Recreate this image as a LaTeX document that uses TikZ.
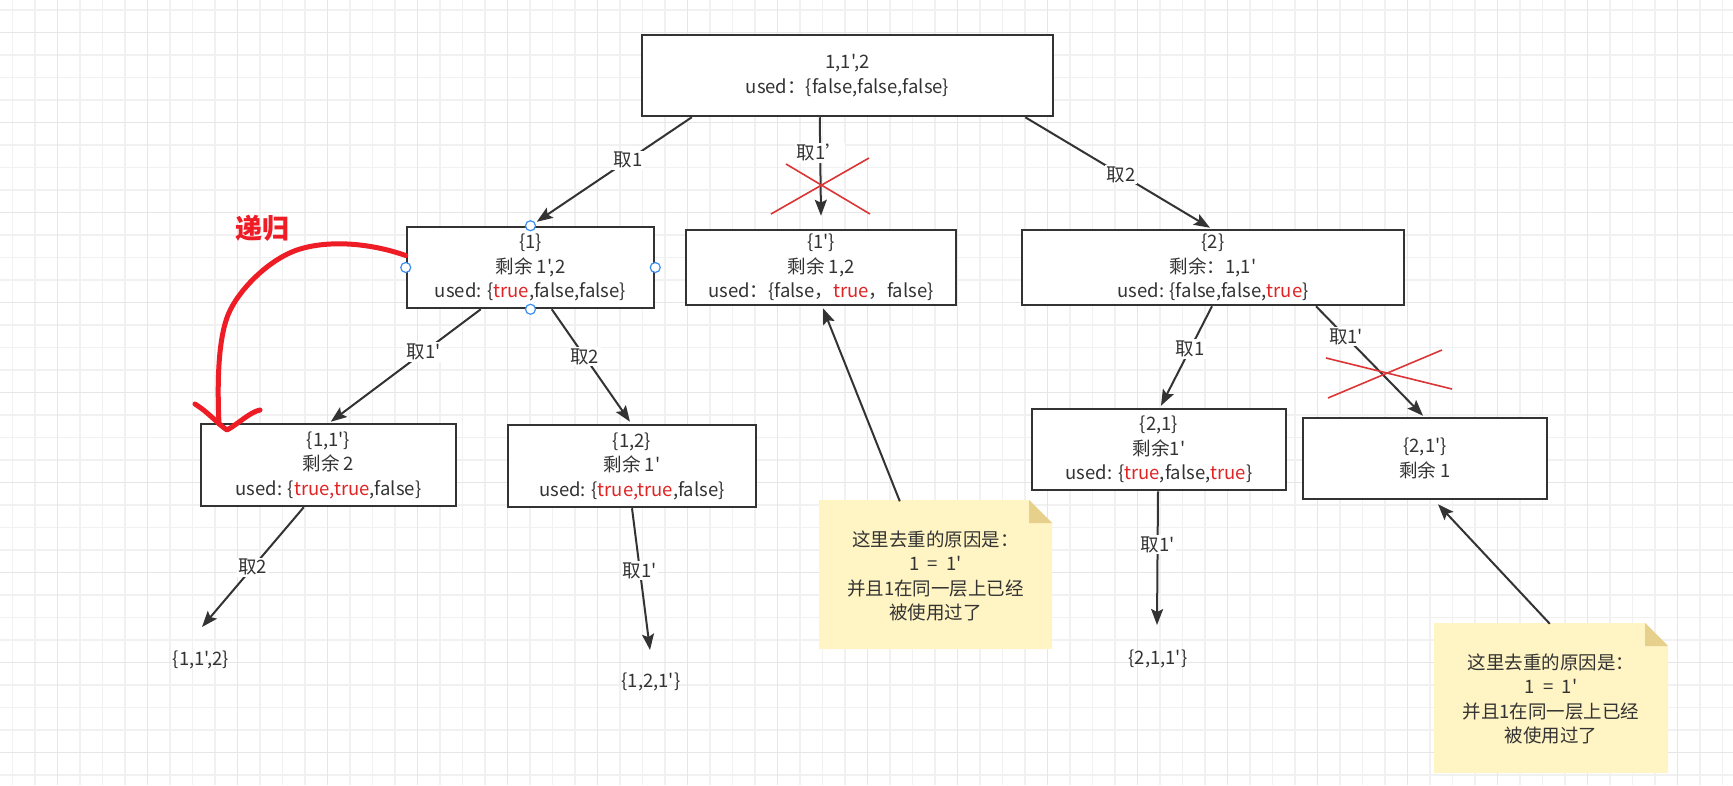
\documentclass[tikz,border=0pt]{standalone}
\usepackage{fontspec}
\setmainfont{Noto Sans CJK SC}[Ligatures=TeXOff]
\usetikzlibrary{arrows.meta,calc}
\definecolor{ink}{HTML}{333333}
\definecolor{txtred}{HTML}{E02424}
\definecolor{xred}{HTML}{DC3535}
\definecolor{penred}{HTML}{EE1C25}
\definecolor{handle}{HTML}{3B8CF0}
\definecolor{notefill}{HTML}{FFF4C3}
\definecolor{foldfill}{HTML}{E6D08C}
\definecolor{gridminor}{HTML}{F1F1F1}
\definecolor{gridmajor}{HTML}{E6E6E6}
\newcommand{\redtxt}[1]{\textcolor{txtred}{#1}}
\begin{document}
\begin{tikzpicture}[x=1pt,y=-1pt,
  every node/.style={font=\fontsize{18.5}{24.5}\selectfont, text=ink},
  box/.style={draw=ink, line width=2.5pt, fill=white, align=center, inner sep=0pt},
  arr/.style={draw=ink, line width=2pt, -{Stealth[length=16pt,width=12pt,inset=3pt]}},
  lab/.style={fill=white, inner sep=1.5pt},
  xline/.style={draw=xred, line width=1.6pt},
  hdl/.style={circle, draw=handle, fill=white, line width=1.2pt, minimum size=10pt, inner sep=0pt},
  leaf/.style={inner sep=0pt},
  notetext/.style={align=center, inner sep=0pt},
  gmin/.style={draw=gridminor, line width=1.5pt},
  gmaj/.style={draw=gridmajor, line width=1.5pt}
]
\useasboundingbox (0,0) rectangle (1733,785);
\fill[white] (0,0) rectangle (1733,785);
% grid
\foreach \i in {0,...,76} \draw[gmin] ({12.7+22.5*\i},0) -- ({12.7+22.5*\i},785);
\foreach \i in {0,...,34} \draw[gmin] (0,{10+22.5*\i}) -- (1733,{10+22.5*\i});
\foreach \i in {0,...,18} \draw[gmaj] ({57.7+90*\i},0) -- ({57.7+90*\i},785);
\foreach \i in {0,...,8} \draw[gmaj] (0,{32.5+90*\i}) -- (1733,{32.5+90*\i});

% notes (shapes)
\fill[notefill] (819,500) -- (1029,500) -- (1052,523) -- (1052,649) -- (819,649) -- cycle;
\fill[foldfill] (1029,500) -- (1052,523) -- (1029,523) -- cycle;
\fill[notefill] (1434,623) -- (1645,623) -- (1668,646) -- (1668,773) -- (1434,773) -- cycle;
\fill[foldfill] (1645,623) -- (1668,646) -- (1645,646) -- cycle;
\node[notetext, minimum width=233pt, minimum height=149pt] (note1) at (935.5,576)
  {这里去重的原因是：\\1\ \ =\ \ 1'\\并且1在同一层上已经\\被使用过了};
\node[notetext, minimum width=234pt, minimum height=150pt] (note2) at (1551,699)
  {这里去重的原因是：\\1\ \ =\ \ 1'\\并且1在同一层上已经\\被使用过了};

% boxes
\node[box, minimum width=411pt, minimum height=81pt] (root) at (847.5,75.5)
  {1,1',2\\used：\{false,false,false\}};
\node[box, minimum width=247pt, minimum height=81pt] (n1) at (530.5,267.5)
  {\{1\}\\剩余 1',2\\used: \{\redtxt{true},false,false\}};
\node[box, minimum width=270pt, minimum height=75pt] (n1p) at (821,267.5)
  {\{1'\}\\剩余 1,2\\used：\{false，\redtxt{true}，false\}};
\node[box, minimum width=382pt, minimum height=75pt] (n2) at (1213,267.5)
  {\{2\}\\剩余：1,1'\\used: \{false,false,\redtxt{true}\}};
\node[box, minimum width=255pt, minimum height=82pt] (n11) at (328.5,465)
  {\{1,1'\}\\剩余 2\\used: \{\redtxt{true,true},false\}};
\node[box, minimum width=248pt, minimum height=82pt] (n12) at (632,466)
  {\{1,2\}\\剩余 1'\\used: \{\redtxt{true,true},false\}};
\node[box, minimum width=254pt, minimum height=81pt] (n21) at (1159,449.5)
  {\{2,1\}\\剩余1'\\used: \{\redtxt{true},false,\redtxt{true}\}};
\node[box, minimum width=244pt, minimum height=81pt] (n21p) at (1425,458.5)
  {\{2,1'\}\\剩余 1};

% leaves
\node[leaf] (t112) at (201,660) {\{1,1',2\}};
\node[leaf] (t121) at (651,682) {\{1,2,1'\}};
\node[leaf] (t211) at (1158,659) {\{2,1,1'\}};

% connectors
\draw[arr] ([xshift=51pt]root.south west) -- node[lab,pos=0.41]{取1} ([xshift=131pt,yshift=4pt]n1.north west);
\draw[arr] ([xshift=179pt]root.south west) -- node[lab,pos=0.36]{取1’} ([yshift=13pt]n1p.north);
\draw[arr] ([xshift=-29pt]root.south east) -- node[lab,pos=0.52]{取2} ([xshift=-3pt,yshift=1pt]n2.north);
\draw[arr] ([xshift=75pt]n1.south west) -- node[lab,pos=0.38]{取1'} ([xshift=131pt,yshift=1pt]n11.north west);
\draw[arr] ([xshift=146pt]n1.south west) -- node[lab,pos=0.42]{取2} ([xshift=-2pt,yshift=2pt]n12.north);
\draw[arr] ([xshift=-1pt]n2.south) -- node[lab,pos=0.43]{取1} ([xshift=2pt,yshift=2pt]n21.north);
\draw[arr] ([xshift=103pt]n2.south) -- node[lab,pos=0.28]{取1'} ([xshift=-2pt,yshift=1pt]n21p.north);
\draw[arr] ([xshift=104pt]n11.south west) -- node[lab,pos=0.5]{取2} ([xshift=1pt,yshift=33pt]t112.center);
\draw[arr] (n12.south) -- node[lab,pos=0.44]{取1'} ([xshift=-1pt,yshift=32pt]t121.center);
\draw[arr] ([xshift=-1pt]n21.south) -- node[lab,pos=0.4]{取1'} ([xshift=-1pt,yshift=34pt]t211.center);
\draw[arr] ([xshift=81pt]note1.north west) -- ([xshift=2pt,yshift=-2pt]n1p.south);
\draw[arr] ([xshift=116pt]note2.north west) -- ([xshift=13pt,yshift=-4pt]n21p.south);

% red crosses
\draw[xline] (786,164) -- (870,214);
\draw[xline] (771,214) -- (869,158);
\draw[xline] (1326,358) -- (1452,389);
\draw[xline] (1328,398) -- (1442,350);

% selection handles on {1}
\node[hdl] (hn) at (n1.north) {};
\node[hdl] (hw) at (n1.west) {};
\node[hdl] (he) at (n1.east) {};
\node[hdl] (hs) at (n1.south) {};

% hand-drawn recursion arrow
\draw[penred, line width=5pt, line cap=round, line join=round]
  ([yshift=12pt]n1.west) .. controls (370,243) and (330,240) .. (300,249)
  .. controls (270,258) and (238,290) .. (228,315)
  .. controls (216,345) and (218,400) .. (219,424);
\draw[penred, line width=5pt, line cap=round, line join=round]
  (195,404) .. controls (208,412) and (218,424) .. (227,430)
  .. controls (238,424) and (250,412) .. (260,410);
\node[text=penred, font=\fontsize{27}{30}\selectfont\bfseries] (rec) at (262,228) {递归};
\end{tikzpicture}
\end{document}
